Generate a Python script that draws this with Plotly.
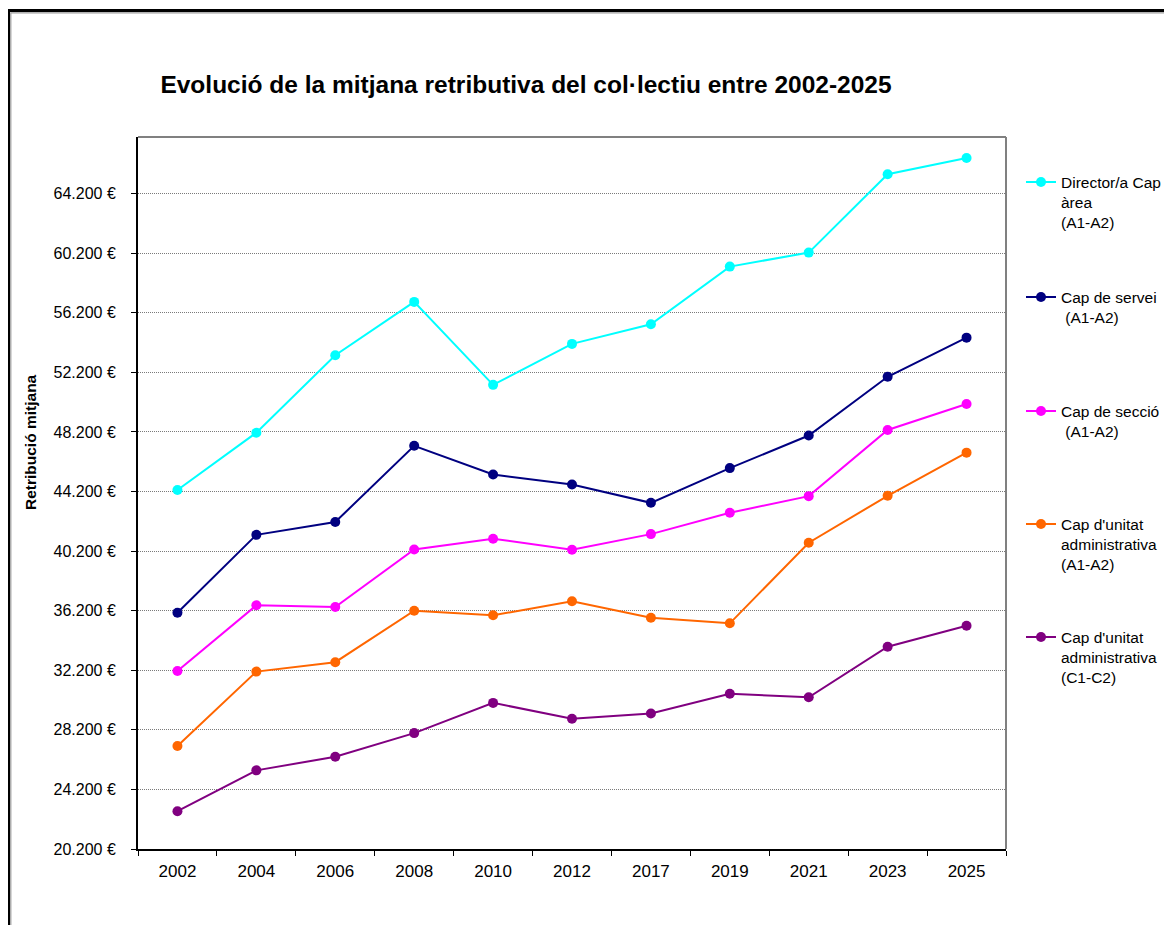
import plotly.graph_objects as go

years = ["2002", "2004", "2006", "2008", "2010", "2012", "2017", "2019", "2021", "2023", "2025"]

director_cap_area = [44300, 48150, 53350, 56930, 51360, 54110, 55430, 59300, 60240, 65500, 66590]
cap_servei = [36060, 41290, 42150, 47270, 45340, 44670, 43440, 45770, 47960, 51900, 54530]
cap_seccio = [32150, 36560, 36450, 40310, 41030, 40290, 41340, 42770, 43890, 48330, 50080]
cap_unitat_a = [27110, 32110, 32740, 36200, 35890, 36830, 35730, 35350, 40760, 43910, 46810]
cap_unitat_c = [22740, 25480, 26390, 27980, 30010, 28940, 29300, 30620, 30390, 33780, 35190]

series_names = [
    "Director/a Cap<br>àrea<br>(A1-A2)",
    "Cap de servei<br>\u00a0(A1-A2)",
    "Cap de secció<br>\u00a0(A1-A2)",
    "Cap d'unitat<br>administrativa<br>(A1-A2)",
    "Cap d'unitat<br>administrativa<br>(C1-C2)",
]
series_values = [director_cap_area, cap_servei, cap_seccio, cap_unitat_a, cap_unitat_c]
series_colors = ["#00FFFF", "#000080", "#FF00FF", "#FF6600", "#800080"]

y_ticks = [20200, 24200, 28200, 32200, 36200, 40200, 44200, 48200, 52200, 56200, 60200, 64200]
y_tick_text = [f"{v:,}".replace(",", ".") + " €" for v in y_ticks]

FONT = "Liberation Sans, Arial, sans-serif"

# page has an 8px body margin: figure is drawn at (8, 8)
OFF = 8
W, H = 1172 - OFF, 925 - OFF
# plot area in reference (window) pixels
L, R, T, B = 138, 1006, 137, 849
pw, ph = R - L, B - T

def px_x(x):
    return (x - L) / pw

def px_y(y):
    return (B - y) / ph

fig = go.Figure()
legend_ids = ["legend", "legend2", "legend3", "legend4", "legend5"]
marker_px_y = [182, 297, 411, 524, 637]

for name, vals, col, lid in zip(series_names, series_values, series_colors, legend_ids):
    fig.add_trace(go.Scatter(
        x=years, y=vals, name=name, mode="lines+markers",
        line=dict(color=col, width=2),
        marker=dict(color=col, size=10, symbol="circle"),
        legend=lid,
    ))

layout_legends = {}
for lid, my in zip(legend_ids, marker_px_y):
    layout_legends[lid] = dict(
        x=px_x(1021), xanchor="left",
        y=px_y(my - 16.5), yanchor="top",
        valign="top",
        bgcolor="rgba(0,0,0,0)", borderwidth=0,
        font=dict(family=FONT, size=15.5, color="black"),
        tracegroupgap=0,
    )

fig.update_layout(
    width=W, height=H,
    margin=dict(l=L - OFF, r=(W + OFF) - R, t=T - OFF, b=(H + OFF) - B, pad=0,
                autoexpand=False),
    paper_bgcolor="white", plot_bgcolor="white",
    showlegend=True,
    title=dict(
        text="<b>Evolució de la mitjana retributiva del col·lectiu entre 2002-2025</b>",
        x=(526 - OFF) / W, xanchor="center", y=1 - (84 - OFF) / H, yanchor="middle",
        xref="container", yref="container",
        font=dict(family=FONT, size=24.5, color="black"),
    ),
    xaxis=dict(
        type="category", range=[-0.5, 10.5],
        showline=True, linecolor="black", linewidth=2,
        ticks="outside", ticklen=5, tickcolor="black", tickwidth=1,
        tickson="boundaries", showgrid=False,
        tickfont=dict(family=FONT, size=17, color="black"),
        ticklabelstandoff=6,
        zeroline=False, automargin=False,
    ),
    yaxis=dict(
        range=[20200, 68000],
        tickvals=y_ticks, ticktext=y_tick_text,
        showline=True, linecolor="black", linewidth=2,
        ticks="outside", ticklen=5, tickcolor="black", tickwidth=1,
        showgrid=True, gridcolor="#7a7a7a", gridwidth=1, griddash="1px,1px",
        tickfont=dict(family=FONT, size=16, color="black"),
        ticklabelstandoff=12,
        zeroline=False, automargin=False,
    ),
    annotations=[dict(
        text="<b>Retribució mitjana</b>",
        x=px_x(30), y=px_y(442), xref="paper", yref="paper",
        xanchor="center", yanchor="middle", textangle=-90, showarrow=False,
        font=dict(family=FONT, size=15.5, color="black"),
    )],
    shapes=[
        # plot area frame top / right (gray)
        dict(type="line", xref="paper", yref="paper", x0=0, x1=1, y0=1, y1=1,
             line=dict(color="#808080", width=2)),
        dict(type="line", xref="paper", yref="paper", x0=1, x1=1, y0=0, y1=1,
             line=dict(color="#808080", width=2)),
        # outer chart border
        dict(type="rect", xref="paper", yref="paper",
             x0=px_x(8.5), x1=px_x(1200), y0=px_y(960), y1=px_y(10.5),
             line=dict(color="black", width=3), layer="above"),
        dict(type="rect", xref="paper", yref="paper",
             x0=px_x(10.8), x1=px_x(1200), y0=px_y(960), y1=px_y(12.8),
             line=dict(color="#9a9a9a", width=1.2), layer="above"),
    ],
    **layout_legends,
)

fig.write_html("out.html")
